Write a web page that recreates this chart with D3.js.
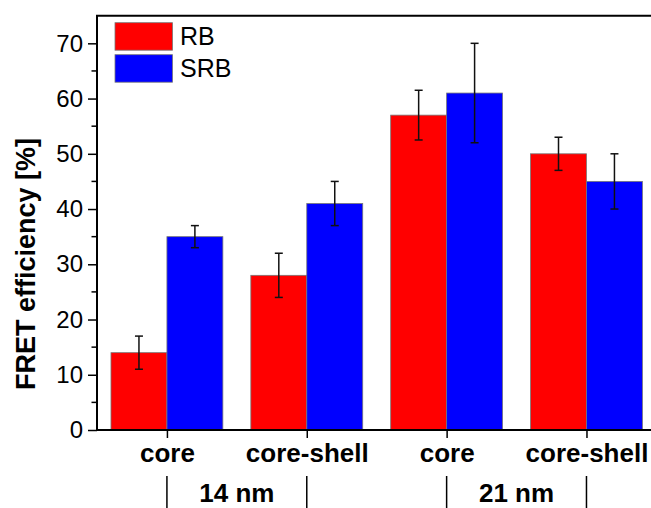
<!DOCTYPE html>
<html>
<head>
<meta charset="utf-8">
<script src="https://cdn.jsdelivr.net/npm/d3@7"></script>
<style>
  html, body { margin: 0; padding: 0; background: #fff; }
  svg { display: block; font-family: "Liberation Sans", Arial, sans-serif; }
</style>
</head>
<body>
<svg id="chart" width="651" height="508"></svg>
<script>
// FRET efficiency of RB and SRB for core / core-shell particles of two sizes
const categories = ["core", "core-shell", "core", "core-shell"];
const sizeGroups = ["14 nm", "21 nm"];
const seriesNames = ["RB", "SRB"];
const rbValues = [14, 28, 57, 50];
const rbErrors = [3, 4, 4.5, 3];
const srbValues = [35, 41, 61, 45];
const srbErrors = [2, 4, 9, 5];
const yTicks = [0, 10, 20, 30, 40, 50, 60, 70];
const colors = ["#ff0000", "#0000ff"];

const svg = d3.select("#chart");
const plotLeft = 97, plotTop = 15.7, plotBottom = 430, plotRight = 656.4;

const x = d3.scalePoint().domain(d3.range(categories.length)).range([plotLeft, plotRight]).padding(0.5);
const y = d3.scaleLinear().domain([0, 75]).range([plotBottom, plotTop]);
const barW = x.step() * 0.4;

const series = [
  { name: seriesNames[0], values: rbValues, errors: rbErrors, color: colors[0] },
  { name: seriesNames[1], values: srbValues, errors: srbErrors, color: colors[1] }
];

// bars
series.forEach((s, si) => {
  svg.append("g").selectAll("rect").data(s.values).join("rect")
    .attr("x", (d, i) => x(i) + (si === 0 ? -barW : 0))
    .attr("y", d => y(d))
    .attr("width", barW)
    .attr("height", d => y(0) - y(d))
    .attr("fill", s.color)
    .attr("stroke", "#777")
    .attr("stroke-width", 0.8);
});

// error bars
series.forEach((s, si) => {
  const g = svg.append("g").attr("stroke", "#111").attr("stroke-width", 1.5);
  s.values.forEach((v, i) => {
    const cx = x(i) + (si === 0 ? -barW / 2 : barW / 2);
    const lo = y(v - s.errors[i]), hi = y(v + s.errors[i]);
    g.append("line").attr("x1", cx).attr("x2", cx).attr("y1", lo).attr("y2", hi);
    g.append("line").attr("x1", cx - 4).attr("x2", cx + 4).attr("y1", lo).attr("y2", lo);
    g.append("line").attr("x1", cx - 4).attr("x2", cx + 4).attr("y1", hi).attr("y2", hi);
  });
});

// y axis with major and minor ticks
const yAxis = d3.axisLeft(y).tickValues(yTicks).tickSize(9).tickPadding(5).tickFormat(d3.format("d"));
const yg = svg.append("g").attr("transform", `translate(${plotLeft},0)`).call(yAxis);
yg.select(".domain").remove();
yg.selectAll(".tick line").attr("stroke", "#000").attr("stroke-width", 1.5);
yg.selectAll(".tick text").attr("font-size", 24).attr("fill", "#000")
  .attr("font-family", "Liberation Sans, Arial, sans-serif");
const minor = d3.range(5, 75, 10);
svg.append("g").selectAll("line").data(minor).join("line")
  .attr("x1", plotLeft - 5.5).attr("x2", plotLeft)
  .attr("y1", d => y(d)).attr("y2", d => y(d))
  .attr("stroke", "#000").attr("stroke-width", 1.5);

// frame lines
svg.append("line").attr("x1", plotLeft).attr("x2", plotLeft).attr("y1", plotTop).attr("y2", plotBottom)
  .attr("stroke", "#000").attr("stroke-width", 2);
svg.append("line").attr("x1", plotLeft - 1).attr("x2", 651).attr("y1", plotTop).attr("y2", plotTop)
  .attr("stroke", "#000").attr("stroke-width", 2);

// x axis
const xAxis = d3.axisBottom(x).tickSize(8).tickPadding(8).tickFormat(i => categories[i]);
const xg = svg.append("g").attr("transform", `translate(0,${plotBottom})`).call(xAxis);
xg.select(".domain").remove();
xg.selectAll(".tick line").attr("stroke", "#000").attr("stroke-width", 1.5);
xg.selectAll(".tick text").attr("font-size", 26).attr("font-weight", "bold").attr("fill", "#000")
  .attr("font-family", "Liberation Sans, Arial, sans-serif")
  .attr("y", 31.5).attr("dy", 0);
svg.append("line").attr("x1", plotLeft - 1).attr("x2", 651).attr("y1", plotBottom).attr("y2", plotBottom)
  .attr("stroke", "#000").attr("stroke-width", 2);

// size group separators and labels
svg.append("g").selectAll("line").data(d3.range(categories.length)).join("line")
  .attr("x1", i => x(i)).attr("x2", i => x(i)).attr("y1", 476).attr("y2", 508)
  .attr("stroke", "#000").attr("stroke-width", 1.5);
svg.append("g").selectAll("text").data(sizeGroups).join("text")
  .attr("x", (d, gi) => (x(gi * 2) + x(gi * 2 + 1)) / 2)
  .attr("y", 502)
  .attr("text-anchor", "middle")
  .attr("font-size", 26).attr("font-weight", "bold")
  .text(d => d);

// y axis title
svg.append("text")
  .attr("transform", `translate(35,264) rotate(-90)`)
  .attr("text-anchor", "middle")
  .attr("font-size", 27).attr("font-weight", "bold")
  .text("FRET efficiency [%]");

// legend
const lg = svg.append("g");
series.forEach((s, si) => {
  lg.append("rect").attr("x", 115).attr("y", 22.7 + si * 32)
    .attr("width", 57.5).attr("height", 27.5)
    .attr("fill", s.color).attr("stroke", "#777").attr("stroke-width", 0.8);
  lg.append("text").attr("x", 180).attr("y", 45 + si * 31.5)
    .attr("font-size", 25).text(s.name);
});
</script>
</body>
</html>
